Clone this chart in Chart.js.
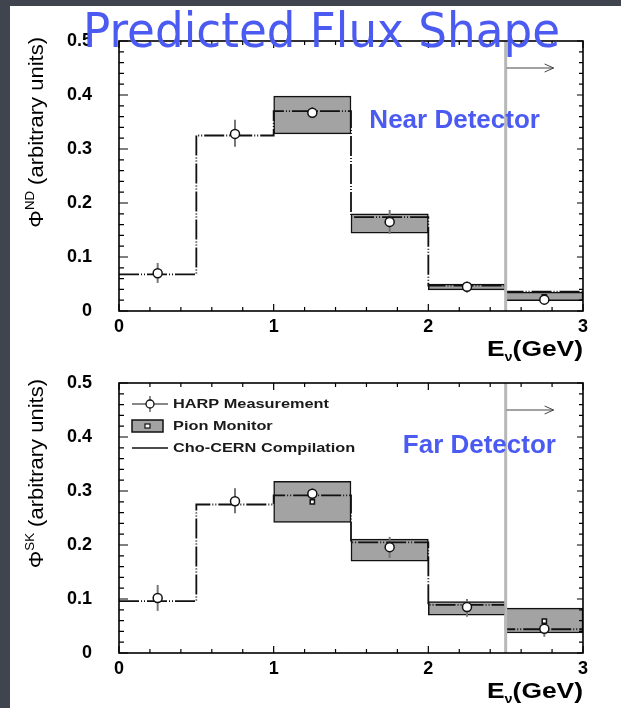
<!DOCTYPE html>
<html>
<head>
<meta charset="utf-8">
<script src="https://cdn.jsdelivr.net/npm/chart.js@4.4.0/dist/chart.umd.min.js"></script>
<style>
  html, body { margin: 0; padding: 0; }
  body { width: 621px; height: 708px; background: #40444e; position: relative; overflow: hidden; }
  #sheet { position: absolute; left: 10px; top: 6px; right: 0; bottom: 0; background: #fff; }
  canvas { position: absolute; left: 0; }
  #nd { top: 0; width: 621px; height: 365px; }
  #sk { top: 345px; width: 621px; height: 363px; }
</style>
</head>
<body>
<div id="sheet"></div>
<canvas id="nd" width="621" height="365"></canvas>
<canvas id="sk" width="621" height="363"></canvas>
<script>
// bins (GeV)
const binEdges = [0, 0.5, 1, 1.5, 2, 2.5, 3];
const binCenters = [0.25, 0.75, 1.25, 1.75, 2.25, 2.75];

// near detector
const choND = [0.068, 0.325, 0.370, 0.174, 0.047, 0.036];
const harpND = [0.070, 0.328, 0.367, 0.165, 0.045, 0.021];
const harpNDLo = [0.052, 0.304, 0.357, 0.143, 0.034, 0.017];
const harpNDHi = [0.089, 0.354, 0.378, 0.187, 0.054, 0.025];
const pionNDLo = [null, null, 0.328, 0.144, 0.039, 0.019];
const pionNDHi = [null, null, 0.398, 0.180, 0.050, 0.035];
const pionND = [null, null, 0.366, 0.168, 0.046, 0.026];

// far detector (SK)
const choSK = [0.096, 0.275, 0.292, 0.205, 0.089, 0.044];
const harpSK = [0.102, 0.281, 0.295, 0.196, 0.085, 0.045];
const harpSKLo = [0.078, 0.259, 0.285, 0.176, 0.067, 0.030];
const harpSKHi = [0.126, 0.305, 0.305, 0.215, 0.100, 0.053];
const pionSKLo = [null, null, 0.242, 0.170, 0.070, 0.037];
const pionSKHi = [null, null, 0.318, 0.211, 0.095, 0.083];
const pionSK = [null, null, 0.280, 0.195, 0.086, 0.059];

const cutEnergy = 2.5;
const legendLabels = ['HARP Measurement', 'Pion Monitor', 'Cho-CERN Compilation'];

const FONT = "'Liberation Sans', Arial, Helvetica, sans-serif";
const BLUE = '#4b5bf2';

function partsWidth(ctx, parts) {
  let w = 0;
  for (const p of parts) { ctx.font = p.font; w += ctx.measureText(p.text).width; }
  return w;
}

// draws the pieces so that they end at x=0 (baseline y=0) in the current transform
function drawPartsRight(ctx, parts, sx) {
  let x = -partsWidth(ctx, parts) * sx;
  for (const p of parts) {
    ctx.font = p.font;
    ctx.save();
    ctx.translate(x, p.dy || 0);
    ctx.scale(sx, 1);
    ctx.fillText(p.text, 0, 0);
    ctx.restore();
    x += ctx.measureText(p.text).width * sx;
  }
}

function makeFluxPlugin(d) {
  return {
    id: 'flux',
    // error bars go on top of the pion monitor boxes
    afterDatasetDraw(chart, args) {
      if (args.index !== 0) return;
      const ctx = chart.ctx, xs = chart.scales.x, ys = chart.scales.y;
      ctx.save();
      ctx.strokeStyle = '#777';
      ctx.lineWidth = 2;
      binCenters.forEach((c, i) => {
        const px = xs.getPixelForValue(c);
        ctx.beginPath();
        ctx.moveTo(px, ys.getPixelForValue(d.harpLo[i]));
        ctx.lineTo(px, ys.getPixelForValue(d.harpHi[i]));
        ctx.stroke();
      });
      ctx.restore();
    },
    afterDatasetsDraw(chart) {
      const ctx = chart.ctx, xs = chart.scales.x, ys = chart.scales.y;
      const a = chart.chartArea;
      ctx.save();

      // energy cut line + arrow
      const cx = xs.getPixelForValue(cutEnergy);
      ctx.strokeStyle = '#b8b8b8';
      ctx.lineWidth = 3;
      ctx.beginPath(); ctx.moveTo(cx, a.top); ctx.lineTo(cx, a.bottom); ctx.stroke();
      const ay = ys.getPixelForValue(0.45), ax2 = xs.getPixelForValue(2.81);
      ctx.strokeStyle = '#444';
      ctx.lineWidth = 1;
      ctx.beginPath();
      ctx.moveTo(cx + 1, ay); ctx.lineTo(ax2, ay);
      ctx.moveTo(ax2 - 9, ay - 4); ctx.lineTo(ax2, ay); ctx.lineTo(ax2 - 9, ay + 4);
      ctx.stroke();

      // frame
      ctx.strokeStyle = '#000';
      ctx.lineWidth = 1.6;
      ctx.strokeRect(a.left, a.top, a.right - a.left, a.bottom - a.top);

      // inward tick marks on all four sides
      ctx.lineWidth = 1.2;
      ctx.beginPath();
      for (let i = 0; i <= 15; i++) {
        const px = xs.getPixelForValue(i * 0.2);
        const len = i % 5 === 0 ? 7 : 4;
        ctx.moveTo(px, a.bottom); ctx.lineTo(px, a.bottom - len);
        ctx.moveTo(px, a.top); ctx.lineTo(px, a.top + len);
      }
      for (let i = 0; i <= 25; i++) {
        const py = ys.getPixelForValue(i * 0.02);
        const len = i % 5 === 0 ? 9 : 5;
        ctx.moveTo(a.left, py); ctx.lineTo(a.left + len, py);
        ctx.moveTo(a.right, py); ctx.lineTo(a.right - (i % 5 === 0 ? 6 : 4), py);
      }
      ctx.stroke();

      // legend (far detector panel)
      if (d.legend) {
        const lx = a.left + 13;
        let ly = a.top + 21;
        ctx.textBaseline = 'alphabetic';
        const txt = (s, y) => {
          ctx.save(); ctx.fillStyle = '#1a1a1a';
          ctx.translate(lx + 41, y + 4); ctx.scale(1.36, 1);
          ctx.font = `bold 12px ${FONT}`; ctx.fillText(s, 0, 0); ctx.restore();
        };
        // HARP
        ctx.strokeStyle = '#8a8a8a'; ctx.lineWidth = 2;
        ctx.beginPath(); ctx.moveTo(lx + 18, ly - 8); ctx.lineTo(lx + 18, ly + 8); ctx.stroke();
        ctx.strokeStyle = '#111'; ctx.lineWidth = 1;
        ctx.beginPath(); ctx.moveTo(lx, ly); ctx.lineTo(lx + 36, ly); ctx.stroke();
        ctx.beginPath(); ctx.arc(lx + 18, ly, 4, 0, Math.PI * 2);
        ctx.fillStyle = '#fff'; ctx.fill(); ctx.lineWidth = 1.3; ctx.stroke();
        txt(legendLabels[0], ly);
        // Pion monitor
        ly += 22;
        ctx.fillStyle = '#a3a3a3';
        ctx.fillRect(lx, ly - 6, 31, 12);
        ctx.lineWidth = 1.5; ctx.strokeRect(lx, ly - 6, 31, 12);
        ctx.fillStyle = '#fff'; ctx.fillRect(lx + 13, ly - 2, 5, 4);
        ctx.lineWidth = 1.2; ctx.strokeRect(lx + 13, ly - 2, 5, 4);
        txt(legendLabels[1], ly);
        // Cho-CERN
        ly += 22;
        ctx.lineWidth = 1.3;
        ctx.beginPath(); ctx.moveTo(lx, ly); ctx.lineTo(lx + 36, ly); ctx.stroke();
        txt(legendLabels[2], ly);
      }

      // detector label
      ctx.fillStyle = BLUE;
      ctx.font = `bold 26px ${FONT}`;
      ctx.textAlign = 'center';
      ctx.textBaseline = 'middle';
      ctx.fillText(d.label, xs.getPixelForValue(d.labelPos[0]), ys.getPixelForValue(d.labelPos[1]));
      ctx.restore();
    },
    afterDraw(chart) {
      const ctx = chart.ctx, a = chart.chartArea;
      ctx.save();
      ctx.fillStyle = '#000';
      ctx.textAlign = 'left';
      ctx.textBaseline = 'alphabetic';

      // x title: E_nu(GeV)
      ctx.save();
      ctx.translate(a.right, a.bottom + 45);
      drawPartsRight(ctx, [
        { text: 'E', font: `bold 22px ${FONT}` },
        { text: 'ν', font: `bold 12px ${FONT}`, dy: 5 },
        { text: '(GeV)', font: `bold 22px ${FONT}` }
      ], 1.2);
      ctx.restore();

      // y title: Phi^XX (arbitrary units)
      ctx.save();
      ctx.translate(43, a.top - 4);
      ctx.rotate(-Math.PI / 2);
      drawPartsRight(ctx, [
        { text: 'Φ', font: `20px ${FONT}` },
        { text: d.sup, font: `12px ${FONT}`, dy: -9 },
        { text: ' (arbitrary units)', font: `20px ${FONT}` }
      ], 1.1);
      ctx.restore();

      // slide title
      if (d.title) {
        ctx.font = "48px 'DejaVu Sans', sans-serif";
        const w = ctx.measureText(d.title).width;
        ctx.fillStyle = BLUE;
        ctx.translate(83, 47);
        ctx.scale(477 / w, 1);
        ctx.fillText(d.title, 0, 0);
      }
      ctx.restore();
    }
  };
}

function makeChart(id, d) {
  const choLine = binEdges.map((e, i) => ({ x: e, y: d.cho[Math.min(i, d.cho.length - 1)] }));
  const tickFont = { family: FONT, size: 18, weight: 'bold' };
  return new Chart(document.getElementById(id), {
    type: 'bar',
    data: {
      labels: binCenters.map(String),
      datasets: [
        {
          type: 'bar', xAxisID: 'xc', yAxisID: 'y', grouped: false,
          data: d.pionLo.map((lo, i) => (lo === null ? null : [lo, d.pionHi[i]])),
          backgroundColor: '#a3a3a3', borderColor: '#111', borderWidth: 1.5,
          borderSkipped: false, barPercentage: 1, categoryPercentage: 1, order: 4
        },
        {
          type: 'line', xAxisID: 'x', yAxisID: 'y', data: choLine, stepped: true,
          borderColor: '#111', borderWidth: 1.8, borderDash: [20, 2, 1, 2, 1, 2],
          pointRadius: 0, fill: false, order: 3
        },
        {
          type: 'line', xAxisID: 'x', yAxisID: 'y', showLine: false,
          data: binCenters.map((c, i) => ({ x: c, y: d.pion[i] })),
          pointStyle: 'rect', pointRadius: 3, pointBackgroundColor: '#fff',
          pointBorderColor: '#111', pointBorderWidth: 1.5, order: 2
        },
        {
          type: 'line', xAxisID: 'x', yAxisID: 'y', showLine: false,
          data: binCenters.map((c, i) => ({ x: c, y: d.harp[i] })),
          pointRadius: 4.5, pointBackgroundColor: '#fff',
          pointBorderColor: '#111', pointBorderWidth: 1.5, order: 1
        }
      ]
    },
    options: {
      responsive: false,
      animation: false,
      events: [],
      layout: { padding: d.padding },
      plugins: { legend: { display: false }, tooltip: { enabled: false } },
      scales: {
        x: {
          type: 'linear', position: 'bottom', min: 0, max: 3, offset: false,
          grid: { display: false, drawTicks: false }, border: { display: false },
          ticks: { stepSize: 1, padding: 5, color: '#000', font: tickFont },
          afterFit: (s) => { s.height = d.xHeight; }
        },
        xc: { type: 'category', display: false, offset: true },
        y: {
          type: 'linear', min: 0, max: 0.5,
          grid: { display: false, drawTicks: false }, border: { display: false },
          ticks: { stepSize: 0.1, padding: 27, color: '#000', font: tickFont },
          afterFit: (s) => { s.width = 80; }
        }
      }
    },
    plugins: [makeFluxPlugin(d)]
  });
}

makeChart('nd', {
  cho: choND, harp: harpND, harpLo: harpNDLo, harpHi: harpNDHi,
  pionLo: pionNDLo, pionHi: pionNDHi, pion: pionND,
  sup: 'ND', label: 'Near Detector', labelPos: [2.17, 0.352], legend: false,
  title: 'Predicted Flux Shape', xHeight: 54,
  padding: { left: 39, right: 38, top: 41, bottom: 0 }
});

makeChart('sk', {
  cho: choSK, harp: harpSK, harpLo: harpSKLo, harpHi: harpSKHi,
  pionLo: pionSKLo, pionHi: pionSKHi, pion: pionSK,
  sup: 'SK', label: 'Far Detector', labelPos: [2.33, 0.383], legend: true,
  title: null, xHeight: 34,
  padding: { left: 39, right: 38, top: 38, bottom: 21 }
});
</script>
</body>
</html>
